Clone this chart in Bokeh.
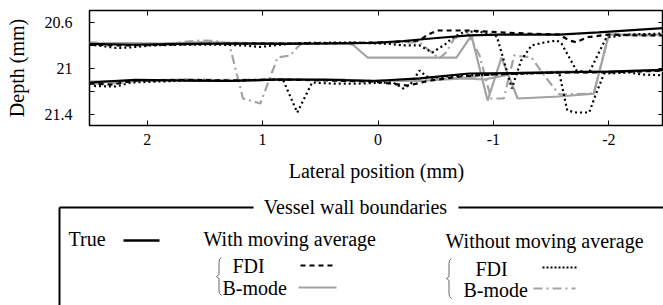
from bokeh.plotting import figure
from bokeh.models import Range1d, LinearAxis, FixedTicker, CustomJSTickFormatter
from bokeh.embed import file_html
from bokeh.resources import INLINE
from bokeh.core.properties import value

FONT = "Liberation Serif"
GRAY = "#a3a3a3"

# ---------------- data (lateral position mm, depth mm) ----------------
true_up_x = [2.5, 2.14, 1.66, 1.28, 0.85, 0.41, 0.03, -0.22, -0.51, -0.79, -1.05, -1.40, -1.57, -1.91, -2.5]
true_up_y = [20.791, 20.798, 20.790, 20.787, 20.790, 20.787, 20.781, 20.765, 20.739, 20.717, 20.709, 20.709, 20.709, 20.691, 20.652]
true_lo_x = [2.5, 2.10, 1.66, 1.28, 0.85, 0.41, 0.03, -0.36, -0.79, -1.22, -1.61, -2.0, -2.5]
true_lo_y = [21.126, 21.104, 21.109, 21.113, 21.100, 21.104, 21.113, 21.091, 21.048, 21.044, 21.037, 21.031, 21.016]

fdi_ma_up_x = [2.5, 2.22, 1.97, 1.53, 1.10, 0.67, 0.24, -0.02, -0.22, -0.36, -0.42, -0.51, -0.79, -1.03, -1.33, -1.57, -1.66, -1.72, -1.81, -2.0, -2.28, -2.5]
fdi_ma_up_y = [20.796, 20.804, 20.800, 20.791, 20.787, 20.787, 20.783, 20.778, 20.770, 20.761, 20.717, 20.674, 20.674, 20.689, 20.702, 20.709, 20.761, 20.776, 20.733, 20.709, 20.717, 20.717]
fdi_ma_lo_x = [2.5, 2.31, 2.10, 1.66, 1.28, 0.85, 0.41, 0.03, -0.10, -0.25, -0.30, -0.45, -0.71, -0.97, -1.22, -1.57, -2.0, -2.5]
fdi_ma_lo_y = [21.135, 21.144, 21.109, 21.104, 21.109, 21.100, 21.109, 21.118, 21.135, 21.152, 21.144, 21.109, 21.074, 21.057, 21.048, 21.039, 21.039, 21.022]

bm_ma_up_x = [2.5, 2.22, 1.88, 1.53, 1.10, 0.67, 0.28, 0.22, 0.09, -0.36, -0.68, -0.81, -0.95, -1.07, -1.21, -1.57, -1.87, -2.0, -2.26, -2.5]
bm_ma_up_y = [20.787, 20.783, 20.787, 20.778, 20.783, 20.783, 20.787, 20.796, 20.909, 20.909, 20.909, 20.717, 21.283, 20.909, 21.265, 21.248, 21.222, 20.709, 20.709, 20.709]
bm_ma_lo_x = [2.5, 2.14, 1.66, 1.28, 0.85, 0.41, 0.03, -0.36, -0.75, -0.92, -1.22, -1.61, -2.0, -2.5]
bm_ma_lo_y = [21.118, 21.109, 21.100, 21.109, 21.096, 21.100, 21.109, 21.113, 21.091, 21.100, 21.039, 21.031, 21.031, 21.018]

fdi_raw_up_x = [2.5, 2.36, 2.27, 2.16, 1.97, 1.66, 1.41, 1.16, 1.02, 0.84, 0.67, 0.24, -0.02, -0.10, -0.22, -0.36, -0.47, -0.58, -0.65, -0.75, -0.88, -1.03, -1.16, -1.24, -1.33, -1.44, -1.55, -1.59, -1.72, -1.83, -1.91, -1.98, -2.17, -2.5]
fdi_raw_up_y = [20.796, 20.813, 20.826, 20.822, 20.804, 20.796, 20.796, 20.804, 20.817, 20.796, 20.783, 20.778, 20.787, 20.791, 20.804, 20.804, 20.865, 20.796, 20.735, 20.683, 20.683, 20.726, 21.178, 20.935, 20.804, 20.778, 20.761, 20.787, 21.022, 21.039, 20.874, 20.735, 20.709, 20.700]
fdi_raw_lo_x = [2.5, 2.45, 2.27, 2.14, 1.66, 1.28, 0.89, 0.82, 0.70, 0.57, 0.41, 0.16, 0.03, -0.13, -0.22, -0.28, -0.36, -0.42, -0.47, -0.71, -0.97, -1.22, -1.57, -1.64, -1.72, -1.83, -1.89, -1.96, -2.17, -2.30, -2.5]
fdi_raw_lo_y = [21.135, 21.157, 21.161, 21.126, 21.109, 21.113, 21.100, 21.109, 21.387, 21.126, 21.135, 21.135, 21.130, 21.126, 21.178, 21.144, 21.022, 21.074, 21.083, 21.065, 21.057, 21.048, 21.039, 21.370, 21.387, 21.387, 21.222, 21.048, 21.039, 21.057, 21.065]

bm_raw_up_x = [2.5, 2.22, 1.88, 1.53, 1.41, 1.29, 1.17, 1.02, 0.87, 0.76, 0.70, 0.66, 0.33, -0.02, -0.36, -0.53, -0.59, -0.66, -0.78, -0.88, -0.98, -1.09, -1.18, -1.33, -1.44, -1.57, -1.87, -2.0, -2.26, -2.5]
bm_raw_up_y = [20.778, 20.787, 20.791, 20.761, 20.765, 20.787, 21.265, 21.309, 20.909, 20.891, 20.822, 20.787, 20.783, 20.778, 20.778, 20.917, 20.865, 20.744, 20.700, 20.891, 21.265, 21.265, 20.891, 20.909, 21.065, 21.230, 21.222, 20.709, 20.717, 20.717]
bm_raw_lo_x = [2.5, 2.31, 2.05, 1.66, 1.28, 0.85, 0.41, 0.03, -0.36, -0.75, -1.05, -1.40, -1.66, -2.0, -2.5]
bm_raw_lo_y = [21.135, 21.135, 21.109, 21.100, 21.104, 21.096, 21.100, 21.109, 21.100, 21.083, 21.052, 21.044, 21.039, 21.035, 21.022]

x_ticks = [2, 1, 0, -1, -2]
y_ticks = [20.6, 21.0, 21.4]
y_minor = [20.8, 21.2]

# ---------------- main plot ----------------
p = figure(width=663, height=195, x_range=Range1d(2.5, -2.474), y_range=Range1d(21.5, 20.5),
           x_axis_type=None, y_axis_type=None, output_backend="svg", toolbar_location=None,
           min_border_left=89, min_border_right=0, min_border_top=10, min_border_bottom=70)
p.grid.visible = False
p.outline_line_color = "black"
p.outline_line_width = 1.5
p.background_fill_color = "white"
p.border_fill_color = "white"

fmt = CustomJSTickFormatter(code="return (Math.round(tick*10)/10).toString();")
blank = CustomJSTickFormatter(code="return '';")

def style(ax, labels=True):
    ax.major_tick_in = 5
    ax.major_tick_out = 0
    ax.minor_tick_in = 5
    ax.minor_tick_out = 0
    ax.axis_line_color = None
    ax.major_tick_line_color = "black"
    ax.minor_tick_line_color = "black"
    ax.major_tick_line_width = 1
    ax.minor_tick_line_width = 1
    ax.major_label_text_font = FONT
    ax.major_label_text_font_size = "16px"
    ax.major_label_text_color = "black"
    ax.axis_label_text_font = FONT
    ax.axis_label_text_font_size = "20px"
    ax.axis_label_text_font_style = "normal"
    ax.axis_label_text_color = "black"
    if not labels:
        ax.major_label_standoff = 0

xb = LinearAxis(ticker=FixedTicker(ticks=x_ticks), formatter=fmt, axis_label="Lateral position (mm)")
style(xb); xb.major_label_standoff = 8; xb.axis_label_standoff = 12
p.add_layout(xb, "below")
xt = LinearAxis(ticker=FixedTicker(ticks=x_ticks), formatter=blank)
style(xt, False)
p.add_layout(xt, "above")

yl = LinearAxis(ticker=FixedTicker(ticks=y_ticks, minor_ticks=y_minor), formatter=fmt, axis_label="Depth (mm)")
style(yl); yl.major_label_standoff = 17; yl.axis_label_standoff = 14
p.add_layout(yl, "left")
yr = LinearAxis(ticker=FixedTicker(ticks=y_ticks, minor_ticks=y_minor), formatter=blank)
style(yr, False)
p.add_layout(yr, "right")

# B-mode without moving average (gray dash-dot)
for xs, ys in [(bm_raw_up_x, bm_raw_up_y), (bm_raw_lo_x, bm_raw_lo_y)]:
    p.line(xs, ys, line_color=GRAY, line_width=2.2, line_dash="9 4 2 4")
# B-mode with moving average (gray solid)
for xs, ys in [(bm_ma_up_x, bm_ma_up_y), (bm_ma_lo_x, bm_ma_lo_y)]:
    p.line(xs, ys, line_color=GRAY, line_width=2.2)
# FDI without moving average (black dotted)
for xs, ys in [(fdi_raw_up_x, fdi_raw_up_y), (fdi_raw_lo_x, fdi_raw_lo_y)]:
    p.line(xs, ys, line_color="black", line_width=2.2, line_dash="2 3")
# FDI with moving average (black dashed)
for xs, ys in [(fdi_ma_up_x, fdi_ma_up_y), (fdi_ma_lo_x, fdi_ma_lo_y)]:
    p.line(xs, ys, line_color="black", line_width=2.2, line_dash="5 4")
# True
for xs, ys in [(true_up_x, true_up_y), (true_lo_x, true_lo_y)]:
    p.line(xs, ys, line_color="black", line_width=2.2)

# ---------------- legend panel (screen-like coordinates) ----------------
leg = figure(width=663, height=110, x_range=Range1d(0, 663), y_range=Range1d(110, 0),
             x_axis_type=None, y_axis_type=None, output_backend="svg", toolbar_location=None,
             min_border=0)
leg.grid.visible = False
leg.outline_line_color = None
leg.border_fill_color = "white"

leg.line([59, 59], [12, 115], line_color="black", line_width=2)
leg.line([59, 253], [12, 12], line_color="black", line_width=2)
leg.line([458, 670], [12, 12], line_color="black", line_width=2)
leg.text([355], [11], text=["Vessel wall boundaries"], text_font=value(FONT), text_font_size="20px",
         text_align="center", text_baseline="middle", text_color="black")

labels_x = [68, 203, 232, 222, 445, 475, 463]
labels_y = [43, 43, 70, 92, 45, 73, 94]
labels_t = ["True", "With moving average", "FDI", "B-mode", "Without moving average", "FDI", "B-mode"]
leg.text(labels_x, labels_y, text=labels_t, text_font=value(FONT), text_font_size="20px",
         text_align="left", text_baseline="middle", text_color="black")

leg.line([123, 159], [45, 45], line_color="black", line_width=2.5)
leg.line([300, 336], [70, 70], line_color="black", line_width=2.2, line_dash="5 4")
leg.line([298, 336], [92, 92], line_color=GRAY, line_width=2.2)
leg.line([542, 577], [72, 72], line_color="black", line_width=2.2, line_dash="2 2")
leg.line([533, 575], [93, 93], line_color=GRAY, line_width=2.2, line_dash="9 4 2 4")

def brace(x, top, bot):
    mid = (top + bot) / 2
    xs = [x + 3, x + 1, x + 0.5, x + 0.5, x - 2, x + 0.5, x + 0.5, x + 1, x + 3]
    ys = [top, top + 2, top + 5, mid - 2, mid, mid + 2, bot - 5, bot - 2, bot]
    leg.line(xs, ys, line_color="#666666", line_width=1)

brace(218, 62, 100)
brace(448, 63, 103)

open("out.html", "w").write(file_html([p, leg], INLINE))
